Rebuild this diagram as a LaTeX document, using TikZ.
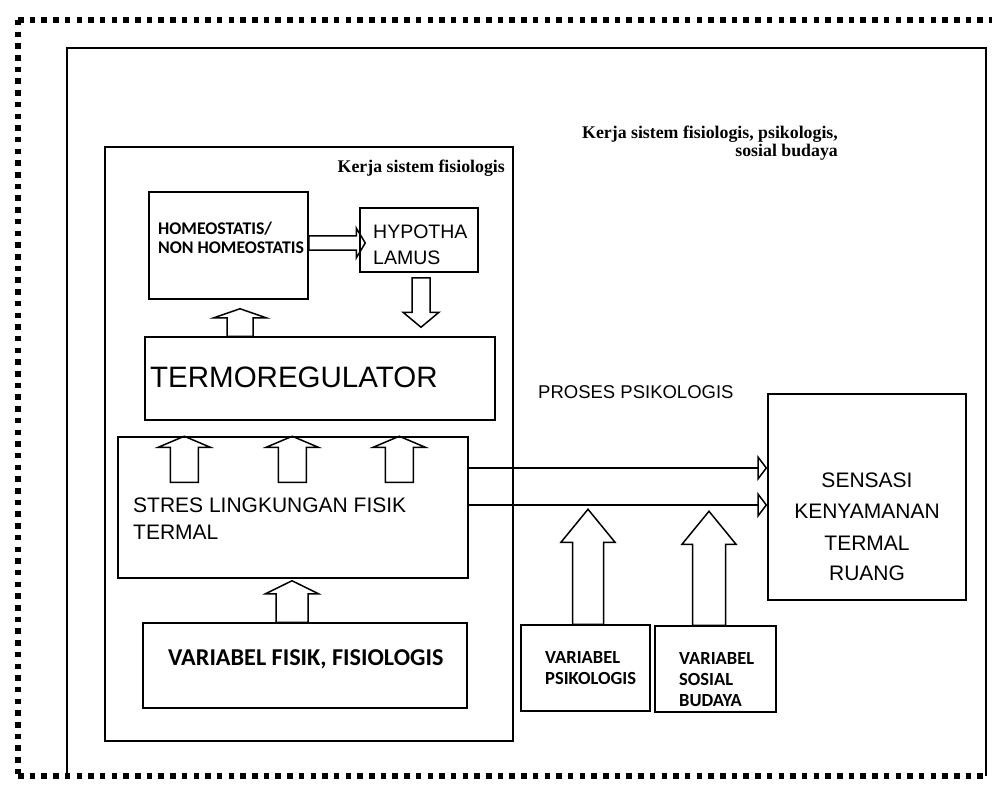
\documentclass[tikz,border=0pt]{standalone}
\usepackage{fontspec}
\setmainfont{Liberation Sans}
\newfontfamily\timesb{Liberation Serif}
\newfontfamily\carl{Carlito}
\usetikzlibrary{calc,arrows.meta}
\tikzset{
  box/.style={draw, line width=1.5pt, inner sep=0pt},
  txt/.style={inner sep=0pt, anchor=base west},
  fatarr/.style={draw, line width=1.5pt, line join=miter},
  thinarr/.style={line width=1.5pt, -{Triangle[open,length=10pt,width=26pt]}},
  dotline/.style={line width=5.5pt, dash pattern=on 5.5pt off 6.2pt},
  frame/.style={line width=1.6pt}
}
% #1 start, #2 tip, #3 shaft half width, #4 head half width, #5 head length
\newcommand\fatarrow[5]{%
  \coordinate (fah) at ($(#2)!#5!(#1)$);
  \draw[fatarr] ($(#1)!#3!90:(#2)$) -- ($(fah)!#3!90:(#2)$) -- ($(fah)!#4!90:(#2)$) -- (#2)
    -- ($(fah)!#4!-90:(#2)$) -- ($(fah)!#3!-90:(#2)$) -- ($(#1)!#3!-90:(#2)$) -- cycle;
}
\begin{document}
\begin{tikzpicture}[x=1pt, y=-1pt]
\useasboundingbox (0,0) rectangle (992,786);
% dotted border
\draw[dotline] (18,20) -- (995,20);
\draw[dotline] (18,20) -- (18,776);
\draw[dotline] (18,776) -- (986,776);
% solid frame
\draw[frame] (67,776) -- (67,48) -- (986,48) -- (986,776);
% labels of frames
\node[inner sep=0pt, anchor=base east, font=\timesb\bfseries\fontsize{17.8}{18}\selectfont] (lbl1) at (838,139) {Kerja sistem fisiologis, psikologis,};
\node[inner sep=0pt, anchor=base east, font=\timesb\bfseries\fontsize{17.8}{18}\selectfont] (lbl2) at (838,157) {sosial budaya};
% inner box
\node[box, minimum width=408pt, minimum height=594pt] (fisio) at (309,444) {};
\node[inner sep=0pt, anchor=base east, font=\timesb\bfseries\fontsize{17.8}{18}\selectfont] (lbl3) at (505,173) {Kerja sistem fisiologis};
% boxes
\node[box, minimum width=159pt, minimum height=107pt] (homeo) at (228.5,245.5) {};
\node[box, minimum width=118pt, minimum height=64pt] (hypo) at (419,240) {};
\node[box, minimum width=350pt, minimum height=83pt] (termo) at (320,378.5) {};
\node[box, minimum width=350pt, minimum height=141pt] (stress) at (293,507.5) {};
\node[box, minimum width=324pt, minimum height=85pt] (varfis) at (305,665.5) {};
\node[box, minimum width=129pt, minimum height=86pt] (varpsi) at (585.5,668) {};
\node[box, minimum width=121pt, minimum height=86pt] (varsos) at (715.5,669) {};
\node[box, minimum width=198pt, minimum height=206pt] (sensasi) at (867,497) {};
% texts
\node[txt, font=\carl\bfseries\fontsize{17.8}{18}\selectfont] (t1) at (158,234) {HOMEOSTATIS/};
\node[txt, font=\carl\bfseries\fontsize{17.8}{18}\selectfont] (t2) at (158,253) {NON HOMEOSTATIS};
\node[txt, font=\fontsize{19.5}{20}\selectfont] (t3) at (373,239) {HYPOTHA};
\node[txt, font=\fontsize{19.5}{20}\selectfont] (t4) at (373,264) {LAMUS};
\node[txt, font=\fontsize{29.5}{30}\selectfont] (t5) at (150,387) {TERMOREGULATOR};
\node[txt, font=\fontsize{21}{22}\selectfont] (t6) at (133,512) {STRES LINGKUNGAN FISIK};
\node[txt, font=\fontsize{21}{22}\selectfont] (t7) at (133,539) {TERMAL};
\node[txt, font=\fontsize{18.5}{19}\selectfont] (t8) at (538,398) {PROSES PSIKOLOGIS};
\node[inner sep=0pt, anchor=base, font=\fontsize{21}{22}\selectfont] (t9) at (867,487) {SENSASI};
\node[inner sep=0pt, anchor=base, font=\fontsize{21}{22}\selectfont] (t10) at (867,518) {KENYAMANAN};
\node[inner sep=0pt, anchor=base, font=\fontsize{21}{22}\selectfont] (t11) at (867,550) {TERMAL};
\node[inner sep=0pt, anchor=base, font=\fontsize{21}{22}\selectfont] (t12) at (867,580) {RUANG};
\node[txt, font=\carl\bfseries\fontsize{24.2}{25}\selectfont] (t13) at (168,665) {VARIABEL FISIK, FISIOLOGIS};
\node[txt, font=\carl\bfseries\fontsize{18.5}{19}\selectfont] (t14) at (545,663) {VARIABEL};
\node[txt, font=\carl\bfseries\fontsize{18.5}{19}\selectfont] (t15) at (545,684) {PSIKOLOGIS};
\node[txt, font=\carl\bfseries\fontsize{18.5}{19}\selectfont] (t16) at (679,664) {VARIABEL};
\node[txt, font=\carl\bfseries\fontsize{18.5}{19}\selectfont] (t17) at (679,685) {SOSIAL};
\node[txt, font=\carl\bfseries\fontsize{18.5}{19}\selectfont] (t18) at (679,706) {BUDAYA};
% fat arrows
\coordinate (a1s) at ($(homeo.east)+(0,-2.5)$);
\coordinate (a1t) at ($(hypo.west |- a1s)+(6,0)$);
\fatarrow{a1s}{a1t}{7pt}{15pt}{9pt}
\coordinate (a2s) at ($(hypo.south)+(2,5)$);
\coordinate (a2t) at ($(termo.north -| a2s)+(0,-9)$);
\fatarrow{a2s}{a2t}{9pt}{18pt}{15pt}
\coordinate (a3t) at ($(homeo.south)+(11.5,9)$);
\coordinate (a3s) at (termo.north -| a3t);
\fatarrow{a3s}{a3t}{13pt}{26pt}{9pt}
\coordinate (a4t) at ($(stress.north west)+(67,0)$);
\coordinate (a4s) at ($(a4t)+(0,46)$);
\fatarrow{a4s}{a4t}{14pt}{26pt}{11pt}
\coordinate (a5t) at ($(stress.north west)+(175,0)$);
\coordinate (a5s) at ($(a5t)+(0,46)$);
\fatarrow{a5s}{a5t}{14pt}{26pt}{11pt}
\coordinate (a6t) at ($(stress.north west)+(282,0)$);
\coordinate (a6s) at ($(a6t)+(0,46)$);
\fatarrow{a6s}{a6t}{14pt}{26pt}{11pt}
\coordinate (a7t) at ($(stress.south)+(-1,2)$);
\coordinate (a7s) at (varfis.north -| a7t);
\fatarrow{a7s}{a7t}{16pt}{26.5pt}{13pt}
\coordinate (a8s) at ($(varpsi.north)+(2.5,0)$);
\coordinate (a8t) at ($(a8s)+(0,-115)$);
\fatarrow{a8s}{a8t}{15.5pt}{27pt}{33pt}
\coordinate (a9s) at ($(varsos.north)+(-6.5,0)$);
\coordinate (a9t) at ($(a9s)+(0,-114)$);
\fatarrow{a9s}{a9t}{16.5pt}{27pt}{33pt}
% thin arrows to sensasi
\draw[thinarr] ($(stress.east)+(0,-39.5)$) -- ($(sensasi.west)+(0,-29)$);
\draw[thinarr] ($(stress.east)+(0,-2.5)$) -- ($(sensasi.west)+(0,8)$);
\end{tikzpicture}
\end{document}
